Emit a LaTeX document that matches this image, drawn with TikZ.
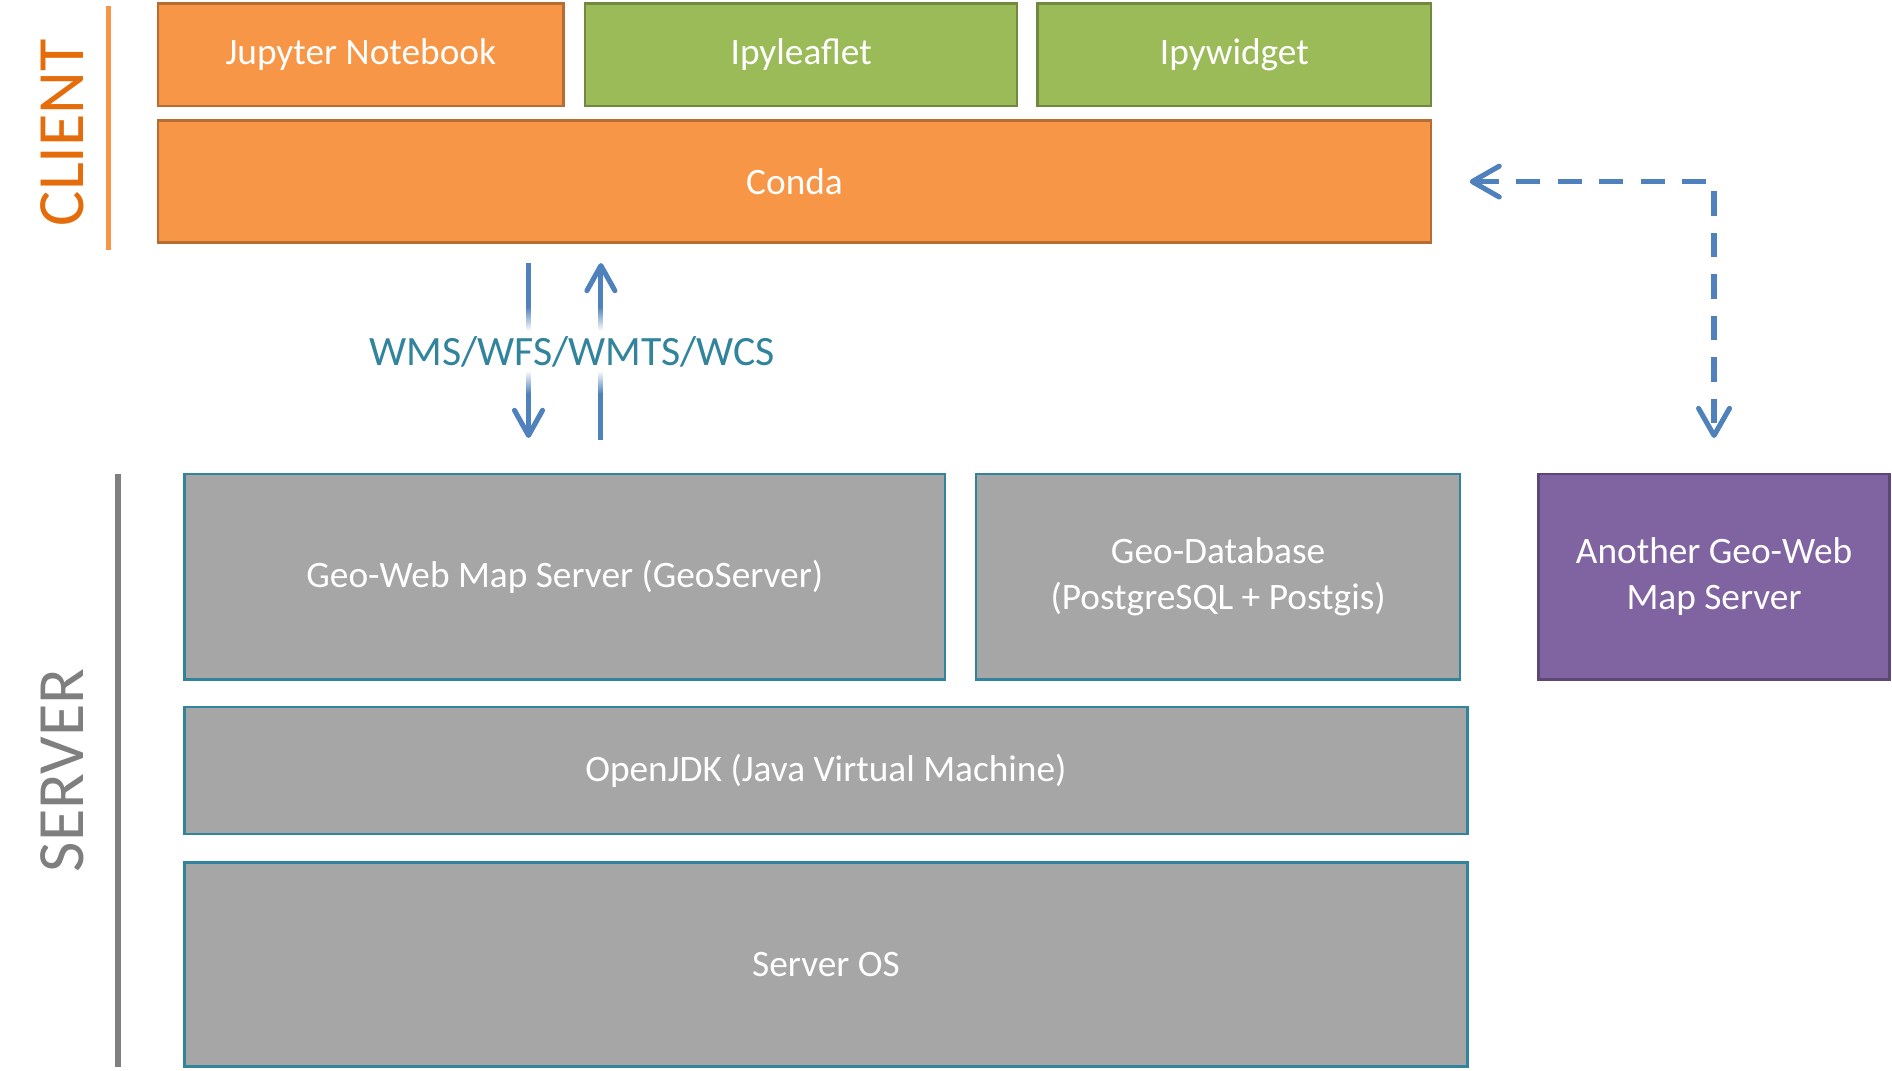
\documentclass[tikz,border=0pt]{standalone}
\usepackage{fontspec}
\setmainfont{Carlito}
\usetikzlibrary{positioning,calc,arrows.meta,fadings}

\definecolor{boxorange}{HTML}{F79646}
\definecolor{boxorangeline}{HTML}{B66D31}
\definecolor{boxgreen}{HTML}{9BBB59}
\definecolor{boxgreenline}{HTML}{71893F}
\definecolor{boxgray}{HTML}{A6A6A6}
\definecolor{boxteal}{HTML}{31849B}
\definecolor{boxpurple}{HTML}{8064A2}
\definecolor{boxpurpleline}{HTML}{5C4776}
\definecolor{arrowblue}{HTML}{4F81BD}
\definecolor{clientlabel}{HTML}{E46C0A}
\definecolor{serverlabel}{HTML}{7F7F7F}

\tikzfading[name=fade in top, top color=transparent!100, bottom color=transparent!0]
\tikzfading[name=fade out bottom, top color=transparent!0, bottom color=transparent!100]

\begin{document}
\begin{tikzpicture}[
    node distance=0.25cm,
    box/.style={rectangle, draw, line width=0.75pt, outer sep=0pt, text=white, align=center, inner sep=2pt, font=\fontsize{11}{13.5}\selectfont},
    client/.style={box, fill=boxorange, draw=boxorangeline},
    widget/.style={box, fill=boxgreen, draw=boxgreenline},
    server/.style={box, fill=boxgray, draw=boxteal},
    remote/.style={box, fill=boxpurple, draw=boxpurpleline},
    flow/.style={-{Straight Barb[length=2.6mm, width=2.9mm, round]}, line width=1.5pt, arrowblue},
    link/.style={{Straight Barb[length=2.8mm, width=3.2mm, round]}-{Straight Barb[length=2.8mm, width=3.2mm, round]}, line width=1.5pt, arrowblue, dash pattern=on 0.25cm off 0.18cm},
    side/.style={font=\fontsize{19.5}{24}\selectfont, rotate=90, anchor=base},
    protocol/.style={text=boxteal, font=\fontsize{12.3}{15}\selectfont}
]
    \useasboundingbox (0,0) rectangle (19.6,-11.0875);

    % client side
    \node[client, minimum width=4.2cm, minimum height=1.0625cm, anchor=north west] (jupyter) at (1.6375,-0.0375) {Jupyter Notebook};
    \node[widget, minimum width=4.475cm, minimum height=1.0625cm, right=0.225cm of jupyter] (ipyleaflet) {Ipyleaflet};
    \node[widget, minimum width=4.075cm, minimum height=1.0625cm, right=0.2125cm of ipyleaflet] (ipywidget) {Ipywidget};
    \node[client, minimum width=13.1875cm, minimum height=1.2625cm, below=0.15cm of jupyter.south west, anchor=north west] (conda) {Conda};

    % server side
    \node[server, minimum width=7.875cm, minimum height=2.125cm, below=2.4cm of conda.south west, anchor=north west, xshift=0.275cm] (geoserver) {Geo-Web Map Server (GeoServer)};
    \node[server, minimum width=5.0125cm, minimum height=2.125cm, right=0.325cm of geoserver] (geodb) {Geo-Database\\(PostgreSQL + Postgis)};
    \node[remote, minimum width=3.6375cm, minimum height=2.125cm, right=0.8125cm of geodb] (another) {Another Geo-Web\\Map Server};
    \node[server, minimum width=13.2875cm, minimum height=1.3125cm, below=0.2875cm of geoserver.south west, anchor=north west] (openjdk) {OpenJDK (Java Virtual Machine)};
    \node[server, minimum width=13.2875cm, minimum height=2.1125cm, below=0.3cm of openjdk.south west, anchor=north west] (serveros) {Server OS};

    % side bars
    \draw[boxorange, line width=1.25pt] ([xshift=-0.5125cm,yshift=-0.025cm]jupyter.north west) -- coordinate (client mid) ([xshift=-0.5125cm,yshift=-0.075cm]conda.south west);
    \node[side, text=clientlabel] (clienttag) at ([xshift=-0.2625cm,yshift=-0.05cm]client mid) {CLIENT};
    \draw[serverlabel, line width=1.75pt] ([xshift=-0.6875cm]geoserver.north west) -- coordinate (server mid) ([xshift=-0.6875cm]serveros.south west);
    \node[side, text=serverlabel] (servertag) at ([xshift=-0.3625cm]server mid) {SERVER};

    % requests between client and server
    \coordinate (proto) at ($(geoserver.north |- conda.south)!0.47!(geoserver.north)+(0.075,0)$);
    \draw[flow] ($(geoserver.north |- conda.south)+(-0.375,-0.2125)$) -- ($(geoserver.north)+(-0.375,0.375)$);
    \draw[flow] ($(geoserver.north)+(0.375,0.35)$) -- ($(geoserver.north |- conda.south)+(0.375,-0.2125)$);
    \fill[white, path fading=fade in top] ($(proto)+(-2.3,0.4625)$) rectangle ($(proto)+(2.3,0.2125)$);
    \fill[white] ($(proto)+(-2.3,0.2125)$) rectangle ($(proto)+(2.3,-0.2)$);
    \fill[white, path fading=fade out bottom] ($(proto)+(-2.3,-0.2)$) rectangle ($(proto)+(2.3,-0.4375)$);
    \node[protocol] (protocols) at (proto) {WMS/WFS/WMTS/WCS};

    \draw[link] ([xshift=0.4cm]conda.east) -| ([yshift=0.375cm]another.north);
\end{tikzpicture}
\end{document}
